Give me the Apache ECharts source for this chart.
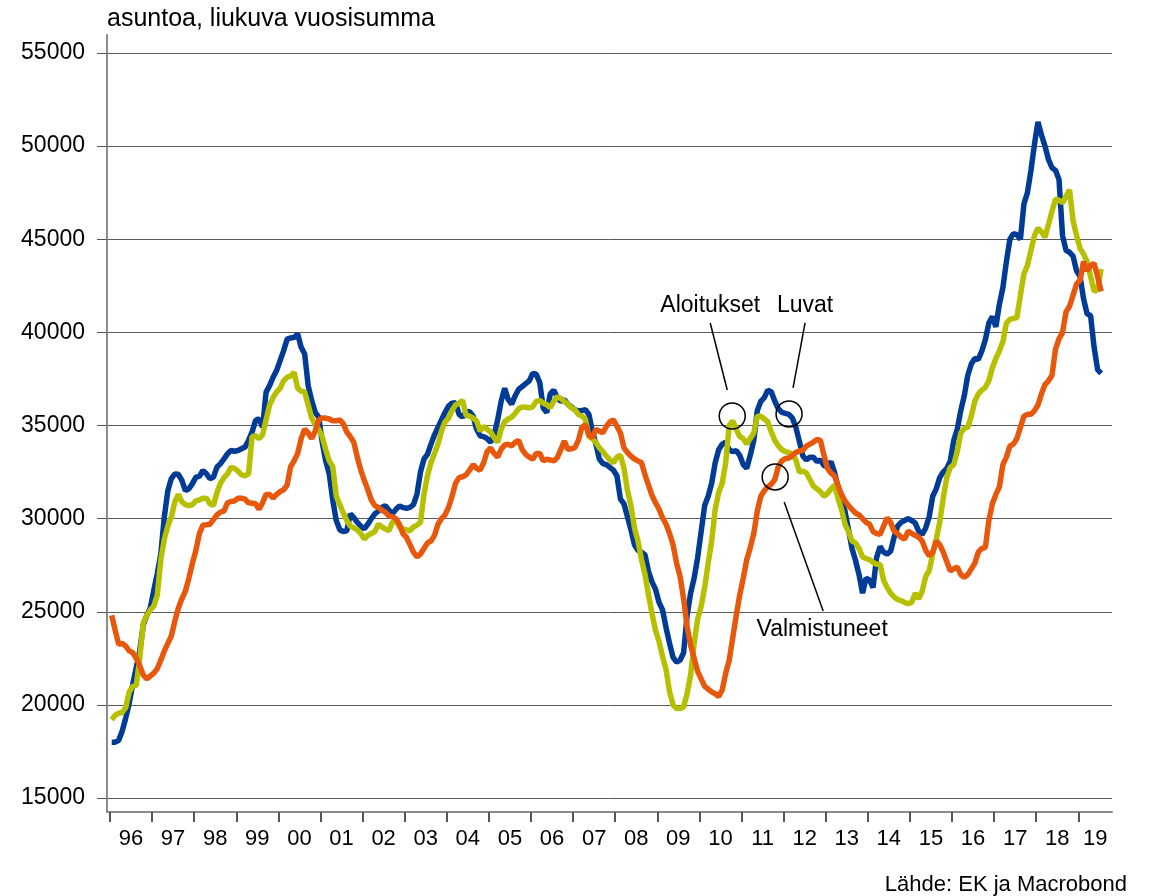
<!DOCTYPE html>
<html>
<head>
<meta charset="utf-8">
<script src="https://cdn.jsdelivr.net/npm/echarts@6/dist/echarts.min.js"></script>
<style>
  html, body { margin: 0; background: #fff; }
  #main { width: 1155px; height: 896px; }
</style>
</head>
<body>
<div id="main"></div>
<script>
// monthly data, Jan 1996 -> Jul 2019
const startYear = 1996;
const xMin = 1995.93, xMax = 2019.8;

const luvat = [
  18000, 18000, 18100, 18600, 19300, 20100, 21100, 22000, 22900, 24300, 24800, 25200, // 96
  26150, 27050, 28100, 30100, 31500, 32150, 32400, 32380, 32050, 31500, 31600, 31880, // 97
  32230, 32270, 32590, 32410, 32140, 32230, 32770, 32950, 33210, 33480, 33660, 33620, // 98
  33660, 33750, 33840, 34200, 34640, 35270, 35360, 34910, 36790, 37140, 37590, 37950, // 99
  38480, 39020, 39640, 39700, 39730, 39910, 39200, 38840, 37140, 36340, 35710, 35450, // 00
  34100, 33100, 32400, 31000, 29900, 29400, 29300, 29340, 30250, 30050, 29800, 29600, // 01
  29450, 29700, 30000, 30250, 30410, 30600, 30700, 30450, 30250, 30500, 30680, 30600, // 02
  30550, 30600, 30750, 31300, 32500, 33200, 33450, 34000, 34500, 34900, 35300, 35700, // 03
  36040, 36200, 36220, 35600, 35450, 35700, 35750, 35500, 34800, 34450, 34400, 34300, // 04
  34100, 34500, 35300, 36300, 37000, 36400, 36150, 36600, 36950, 37090, 37250, 37400, // 05
  37800, 37750, 37300, 35940, 35700, 36700, 36900, 36500, 36300, 36380, 36150, 36000, // 06
  35850, 35780, 35800, 35850, 35600, 34700, 34000, 33200, 32950, 32900, 32750, 32600, // 07
  32300, 31050, 30800, 30100, 29400, 28600, 28300, 28200, 28050, 27160, 26600, 26200, // 08
  25500, 25100, 24150, 23300, 22550, 22300, 22400, 22800, 24800, 26000, 26800, 27900, // 09
  29300, 30700, 31200, 31900, 33000, 33700, 34000, 34100, 33700, 33600, 33650, 33400, // 10
  32900, 32700, 33400, 34200, 35800, 36300, 36500, 36900, 36800, 36300, 35900, 35700, // 11
  35650, 35600, 35400, 34900, 34150, 33350, 33150, 33300, 33300, 33060, 33150, 32850, // 12
  32800, 33060, 32500, 31700, 31000, 30400, 29400, 28400, 27750, 27000, 26000, 26800, // 13
  26700, 26300, 27900, 28500, 28200, 28100, 28250, 29000, 29600, 29800, 29900, 30000, // 14
  29900, 29770, 29330, 29150, 29500, 30100, 31200, 31600, 32200, 32500, 32700, 33100, // 15
  34200, 34800, 35800, 36600, 37700, 38300, 38600, 38550, 39000, 39600, 40500, 40850, // 16
  40300, 41500, 42400, 43800, 45000, 45300, 45250, 45000, 46900, 47500, 48700, 50100, // 17
  51300, 50600, 50000, 49280, 48840, 48700, 48200, 45200, 44400, 44300, 44100, 43300, // 18
  43000, 41800, 41000, 40900, 39200, 38000, 37800                                      // 19
];

const aloitukset = [
  19200, 19450, 19550, 19600, 19850, 20700, 21000, 21050, 22500, 24400, 24800, 25100,
  25300, 25900, 27800, 28900, 29600, 30100, 30900, 31300, 30900, 30750, 30700, 30750,
  30950, 31000, 31100, 31100, 30800, 30700, 31400, 31900, 32200, 32400, 32750, 32700,
  32550, 32350, 32300, 32400, 34400, 34450, 34300, 34500, 35300, 36100, 36500, 36800,
  37000, 37400, 37600, 37650, 37850, 37000, 36850, 36800, 36100, 35400, 35050, 34800,
  34400, 33700, 33100, 32800, 31200, 30750, 30300, 29900, 29600, 29500, 29400, 29200,
  28900, 29100, 29200, 29300, 29700, 29550, 29450, 29350, 29800, 29900, 29550, 29450,
  29400, 29350, 29550, 29650, 29800, 31300, 32300, 33000, 33500, 34000, 34700, 35200,
  35400, 35800, 36100, 36200, 36350, 35550, 35500, 35400, 35250, 34700, 34950, 34800,
  34650, 34350, 34100, 34800, 35200, 35350, 35450, 35650, 35900, 36000, 35980, 35950,
  36000, 36300, 36350, 36200, 36120, 35950, 36300, 36550, 36450, 36300, 36150, 35950,
  35850, 35600, 35500, 35350, 34400, 34300, 34100, 33800, 33600, 33350, 33150, 33000,
  33300, 33400, 32700, 31500, 30700, 29500, 28800, 27800, 27000, 25900, 24900, 24000,
  23400, 22600, 21900, 20700, 20000, 19800, 19800, 19900, 20600, 21600, 23300, 24600,
  25300, 26300, 27600, 28800, 30500, 31400, 31900, 33000, 35000, 35250, 34800, 34400,
  34290, 34000, 34300, 34600, 35500, 35500, 35350, 35200, 34650, 34200, 33900, 33700,
  33600, 33550, 33450, 33150, 32500, 32550, 32450, 32100, 31750, 31600, 31450, 31200,
  31350, 31600, 31800, 31100, 30500, 29700, 29300, 28800, 28700, 28400, 27950, 27850,
  27800, 27650, 27550, 27550, 26700, 26300, 26000, 25800, 25650, 25600, 25500, 25430,
  25500, 26000, 25700, 26100, 26900, 27200, 28100, 28900, 29800, 31100, 32200, 32750,
  32900, 33600, 34600, 34850, 34900, 35500, 36300, 36700, 36900, 37050, 37400, 38100,
  38600, 39000, 39500, 40500, 40700, 40750, 40800, 42000, 43150, 43600, 44400, 45200,
  45600, 45400, 45100, 45800, 46500, 47150, 47100, 46950, 47300, 47650, 46000, 45200,
  44500, 44200, 43800, 43000, 42200, 42300, 43400
];

const valmistuneet = [
  24800, 24000, 23250, 23300, 23150, 22900, 22800, 22500, 22100, 21600, 21400, 21550,
  21700, 21950, 22400, 22900, 23300, 23700, 24500, 25200, 25700, 26100, 26800, 27600,
  28300, 29200, 29650, 29670, 29700, 29950, 30200, 30350, 30400, 30850, 30920, 30950,
  31100, 31100, 31050, 30850, 30830, 30800, 30500, 30850, 31300, 31300, 31100, 31300,
  31450, 31550, 31800, 32800, 33100, 33500, 34300, 34800, 34600, 34300, 34700, 35300,
  35400, 35400, 35350, 35250, 35250, 35300, 35100, 34650, 34400, 34100, 33300, 32600,
  32050, 31550, 31000, 30700, 30600, 30450, 30350, 30150, 30100, 30000, 29700, 29200,
  29000, 28600, 28200, 27950, 28100, 28400, 28700, 28800, 29100, 29700, 30000, 30200,
  30600, 31200, 31900, 32200, 32250, 32350, 32600, 32900, 32700, 32600, 33000, 33600,
  33800, 33500, 33300, 33720, 33950, 33990, 33900, 34100, 34200, 33700, 33450, 33300,
  33190, 33500, 33500, 33100, 33190, 33150, 33100, 33280, 33700, 34170, 33720, 33750,
  33810, 34200, 34900, 35050, 34500, 34340, 34790, 34700, 34610, 34960, 35200, 35300,
  34960, 34600, 33800, 33550, 33350, 33200, 33100, 33000, 32350, 31800, 31240, 30850,
  30500, 30050, 29700, 29200, 28600, 27600, 26900, 25700, 24200, 23200, 22500, 21800,
  21400, 21000, 20850, 20700, 20600, 20450, 20800, 21700, 22400, 23600, 24800, 25900,
  26800, 27800, 28440, 29200, 30400, 31200, 31500, 31700, 31850, 32100, 32800, 33100,
  33230, 33250, 33400, 33560, 33630, 33670, 33900, 34000, 34110, 34250, 34200, 33400,
  32700, 32450, 32300, 31800, 31300, 30950, 30700, 30500, 30300, 30200, 30000, 29800,
  29700, 29300, 29200, 29150, 29600, 30040, 29800, 29330, 29200, 29000, 28900, 29330,
  29200, 29100, 29000, 28800, 28300, 28000, 28200, 28800, 28600, 28200, 27700, 27200,
  27300, 27400, 27000, 26850, 27000, 27300, 27600, 28200, 28400, 28450, 29900, 30800,
  31300, 31700, 32900, 33300, 33900, 34000, 34300, 34900, 35500, 35600, 35600, 35800,
  36100, 36700, 37200, 37400, 37700, 39100, 39650, 40000, 41100, 41400, 42000, 42600,
  42800, 43800, 43300, 43600, 43700, 43000, 42200
];

const yearLabels = ['96','97','98','99','00','01','02','03','04','05','06','07',
                    '08','09','10','11','12','13','14','15','16','17','18','19'];

// annotation: circle on the line (data coords) + label
const notes = [
  { text: 'Aloitukset',   at: [2010.78, 35510], label: [-22, -110], line: [[-22, -93], [-5, -26]] },
  { text: 'Luvat',        at: [2012.13, 35620], label: [16, -108],  line: [[16, -91], [4, -26]] },
  { text: 'Valmistuneet', at: [2011.80, 32240], label: [47, 153],   line: [[9, 25], [48, 134]] }
];

const toPoints = arr => arr.map((v, i) => [startYear + (i + 0.5) / 12, v]);
const tickYears = yearLabels.map((s, i) => startYear + i);
const labelPos = tickYears.map(y => Math.min(y + 0.5, (y + xMax) / 2));

const FONT = 'Liberation Sans, Arial, sans-serif';
const grey = '#8c8c8c';

let chart = echarts.init(document.getElementById('main'));

let option = {
  animation: false,
  backgroundColor: '#fff',
  textStyle: { fontFamily: FONT },
  title: [
    { text: 'asuntoa, liukuva vuosisumma', left: 107, top: 7, padding: 0,
      textStyle: { fontSize: 25, fontWeight: 'normal', color: '#000', fontFamily: FONT } },
    { text: 'Lähde: EK ja Macrobond', right: 28, top: 874, padding: 0,
      textStyle: { fontSize: 22, fontWeight: 'normal', color: '#000', fontFamily: FONT } }
  ],
  grid: [
    { left: 107, right: 43, top: 53, bottom: 98 },
    { left: 107, right: 43, top: 35, bottom: 84 }
  ],
  xAxis: [
    { gridIndex: 0, type: 'value', min: xMin, max: xMax, show: false },
    { gridIndex: 1, type: 'value', min: xMin, max: xMax,
      axisLine: { show: true, lineStyle: { color: grey, width: 2 } },
      axisTick: { show: true, length: 10, customValues: tickYears, lineStyle: { color: '#555', width: 2 } },
      axisLabel: { customValues: labelPos, margin: 16, fontSize: 22, color: '#000', fontFamily: FONT,
        formatter: v => yearLabels[Math.floor(v + 1e-6) - startYear] },
      splitLine: { show: false } }
  ],
  yAxis: [
    { gridIndex: 0, type: 'value', min: 15000, max: 55000, interval: 5000,
      axisLine: { show: false },
      axisTick: { show: true, length: 10, lineStyle: { color: '#555' } },
      axisLabel: { margin: 22, fontSize: 23, color: '#000', fontFamily: FONT, formatter: v => String(v) },
      splitLine: { show: true, lineStyle: { color: '#5a5a5a', width: 1 } } },
    { gridIndex: 1, type: 'value', min: 0, max: 1,
      axisLine: { show: true, lineStyle: { color: grey, width: 2 } },
      axisTick: { show: false }, axisLabel: { show: false }, splitLine: { show: false } }
  ],
  series: [
    { name: 'Luvat', type: 'line', data: toPoints(luvat), showSymbol: false,
      lineStyle: { color: '#003b96', width: 5.5 }, z: 2 },
    { name: 'Aloitukset', type: 'line', data: toPoints(aloitukset), showSymbol: false,
      lineStyle: { color: '#b6c000', width: 5.5 }, z: 3 },
    { name: 'Valmistuneet', type: 'line', data: toPoints(valmistuneet), showSymbol: false,
      lineStyle: { color: '#e8580c', width: 5.5 }, z: 4 }
  ]
};

chart.setOption(option);

// annotations placed from data coordinates
let elements = [];
for (const n of notes) {
  const p = chart.convertToPixel({ gridIndex: 0 }, n.at);
  elements.push({
    type: 'circle', shape: { cx: p[0], cy: p[1], r: 13 }, z: 100,
    style: { fill: 'none', stroke: '#000', lineWidth: 1.5 }
  });
  elements.push({
    type: 'line', z: 100,
    shape: { x1: p[0] + n.line[0][0], y1: p[1] + n.line[0][1], x2: p[0] + n.line[1][0], y2: p[1] + n.line[1][1] },
    style: { stroke: '#000', lineWidth: 1.5 }
  });
  elements.push({
    type: 'text', x: p[0] + n.label[0], y: p[1] + n.label[1], z: 100,
    style: { text: n.text, fill: '#000', font: '23px ' + FONT, align: 'center', verticalAlign: 'middle' }
  });
}
chart.setOption({ graphic: elements });
</script>
</body>
</html>
